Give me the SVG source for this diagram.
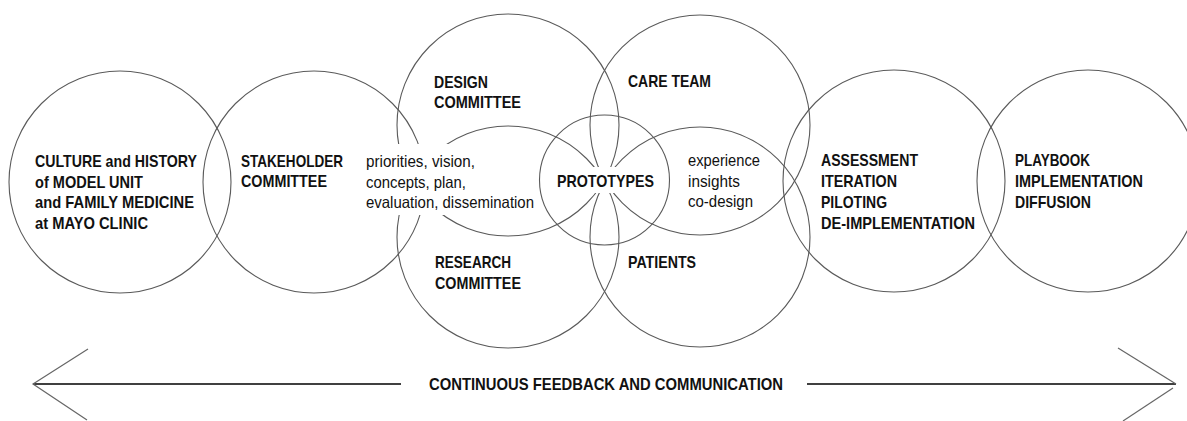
<svg xmlns="http://www.w3.org/2000/svg" width="1187" height="421" viewBox="0 0 1187 421">
<defs>
<style>
.c{fill:none;stroke:#5a5a5a;stroke-width:1.1}
.b{font-family:"Liberation Sans",Arial,sans-serif;font-weight:bold;font-size:17px;fill:#111}
.r{font-family:"Liberation Sans",Arial,sans-serif;font-size:16.5px;fill:#111}
.ko{fill:#fff;stroke:none}
.arm{fill:none;stroke:#666;stroke-width:1.2}
.ln{fill:none;stroke:#000;stroke-width:1.3}
</style>
</defs>
<rect width="1187" height="421" fill="#fff"/>
<g id="shapes">
<circle id="culture" class="c" cx="120" cy="182" r="111"/>
<circle id="stakeholder" class="c" cx="314" cy="182" r="111"/>
<circle id="design" class="c" cx="508" cy="125" r="111"/>
<circle id="research" class="c" cx="508" cy="237" r="111"/>
<circle id="careteam" class="c" cx="700" cy="125" r="110"/>
<circle id="patients" class="c" cx="700" cy="237" r="110"/>
<circle id="prototypes" class="c" cx="604.5" cy="180" r="65"/>
<circle id="assessment" class="c" cx="894" cy="181" r="111"/>
<circle id="playbook" class="c" cx="1088" cy="181" r="111"/>
</g>
<g id="knockouts">
<rect class="ko" x="362" y="144" width="176" height="71"/>
<rect class="ko" x="555" y="167" width="101" height="26"/>
</g>
<g id="labels">
<g id="t-culture">
<text class="b" x="35" y="166.5" textLength="162" lengthAdjust="spacingAndGlyphs">CULTURE and HISTORY</text>
<text class="b" x="35" y="187.5" textLength="108" lengthAdjust="spacingAndGlyphs">of MODEL UNIT</text>
<text class="b" x="35" y="208" textLength="159" lengthAdjust="spacingAndGlyphs">and FAMILY MEDICINE</text>
<text class="b" x="35" y="229" textLength="113" lengthAdjust="spacingAndGlyphs">at MAYO CLINIC</text>
</g>
<g id="t-stakeholder">
<text class="b" x="241" y="166.5" textLength="102" lengthAdjust="spacingAndGlyphs">STAKEHOLDER</text>
<text class="b" x="241" y="187" textLength="86" lengthAdjust="spacingAndGlyphs">COMMITTEE</text>
</g>
<g id="t-priorities">
<text class="r" x="366" y="166.5" textLength="109" lengthAdjust="spacingAndGlyphs">priorities, vision,</text>
<text class="r" x="366" y="188" textLength="100" lengthAdjust="spacingAndGlyphs">concepts, plan,</text>
<text class="r" x="366" y="208" textLength="168" lengthAdjust="spacingAndGlyphs">evaluation, dissemination</text>
</g>
<g id="t-design">
<text class="b" x="434" y="88" textLength="54" lengthAdjust="spacingAndGlyphs">DESIGN</text>
<text class="b" x="434" y="108" textLength="87" lengthAdjust="spacingAndGlyphs">COMMITTEE</text>
</g>
<g id="t-care">
<text class="b" x="628" y="87" textLength="83" lengthAdjust="spacingAndGlyphs">CARE TEAM</text>
</g>
<g id="t-prototypes">
<text class="b" x="557" y="187" textLength="97" lengthAdjust="spacingAndGlyphs">PROTOTYPES</text>
</g>
<g id="t-experience">
<text class="r" x="688" y="166" textLength="72" lengthAdjust="spacingAndGlyphs">experience</text>
<text class="r" x="688" y="187" textLength="52" lengthAdjust="spacingAndGlyphs">insights</text>
<text class="r" x="688" y="207" textLength="65" lengthAdjust="spacingAndGlyphs">co-design</text>
</g>
<g id="t-research">
<text class="b" x="435" y="268" textLength="76" lengthAdjust="spacingAndGlyphs">RESEARCH</text>
<text class="b" x="435" y="289" textLength="86" lengthAdjust="spacingAndGlyphs">COMMITTEE</text>
</g>
<g id="t-patients">
<text class="b" x="628" y="268" textLength="68" lengthAdjust="spacingAndGlyphs">PATIENTS</text>
</g>
<g id="t-assessment">
<text class="b" x="821" y="166" textLength="97" lengthAdjust="spacingAndGlyphs">ASSESSMENT</text>
<text class="b" x="821" y="187" textLength="76" lengthAdjust="spacingAndGlyphs">ITERATION</text>
<text class="b" x="821" y="208" textLength="66" lengthAdjust="spacingAndGlyphs">PILOTING</text>
<text class="b" x="821" y="229" textLength="154" lengthAdjust="spacingAndGlyphs">DE-IMPLEMENTATION</text>
</g>
<g id="t-playbook">
<text class="b" x="1015" y="166" textLength="75" lengthAdjust="spacingAndGlyphs">PLAYBOOK</text>
<text class="b" x="1015" y="187" textLength="128" lengthAdjust="spacingAndGlyphs">IMPLEMENTATION</text>
<text class="b" x="1015" y="208" textLength="76" lengthAdjust="spacingAndGlyphs">DIFFUSION</text>
</g>
</g>
<g id="connectors">
<line class="ln" x1="33" y1="384" x2="401" y2="384"/>
<line class="ln" x1="807" y1="384" x2="1176" y2="384"/>
<polyline class="arm" points="88,349 33,384 87,420"/>
<polyline class="arm" points="1118,348 1176,384"/>
<line class="arm" x1="1173" y1="388" x2="1123" y2="421"/>
<text class="b" x="429" y="390" textLength="354" lengthAdjust="spacingAndGlyphs">CONTINUOUS FEEDBACK AND COMMUNICATION</text>
</g>
</svg>
